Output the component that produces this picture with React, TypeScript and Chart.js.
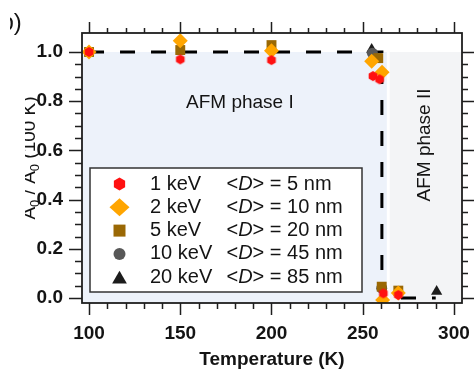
import React, { useEffect, useRef } from 'react';
import { Chart, registerables } from 'chart.js';

Chart.register(...registerables);

// ---------- data ----------
const xTickValues = [100, 150, 200, 250, 300];
const yTickValues = [0, 0.2, 0.4, 0.6, 0.8, 1.0];
const yTickLabels = ['0.0', '0.2', '0.4', '0.6', '0.8', '1.0'];
const xMinorStep = 10;
const yMinorStep = 0.05;

const seriesEnergy = ['1 keV', '2 keV', '5 keV', '10 keV', '20 keV'];
const seriesDepth = ['5 nm', '10 nm', '20 nm', '45 nm', '85 nm'];

const t1keV = [100, 150, 200, 255.6, 259.2, 261.3, 269.5];
const v1keV = [1.0, 0.97, 0.967, 0.902, 0.889, 0.019, 0.012];
const t2keV = [100, 150, 200, 254.9, 260.6, 260.9, 269.5];
const v2keV = [1.0, 1.046, 1.005, 0.962, 0.918, -0.008, 0.02];
const t5keV = [100, 150, 200, 258.5, 260.4, 269.5];
const v5keV = [1.0, 1.008, 1.028, 0.975, 0.046, 0.03];
const t10keV = [255.3, 260.4];
const v10keV = [0.995, 0.04];
const t20keV = [254.9, 290.5];
const v20keV = [1.01, 0.026];

const guideT = [100, 260.5, 260.5, 290];
const guideV = [1, 1, 0, 0];

const phaseIEnd = 263.2;
const phaseIIStart = 264.8;
const phaseTop = 1.0;

// ---------- style ----------
const FONT = '"Liberation Sans", Arial, Helvetica, sans-serif';
const COLORS = ['#ff1111', '#ffa500', '#9a6804', '#585858', '#1c1c1c'];
const STYLES = ['hex', 'rectRot', 'rect', 'circle', 'triangle'];
const PHASE1 = '#edf2fa';
const PHASE2 = '#f3f4f6';
const INK = '#141414';

function hexCanvas(r: number, color: string) {
  const size = Math.ceil(r * 2) + 2;
  const c = document.createElement('canvas');
  c.width = size;
  c.height = size;
  const g = c.getContext('2d')!;
  g.fillStyle = color;
  g.beginPath();
  for (let i = 0; i < 6; i++) {
    const a = -Math.PI / 2 + (i * Math.PI) / 3;
    const px = size / 2 + r * Math.cos(a);
    const py = size / 2 + r * Math.sin(a);
    if (i === 0) g.moveTo(px, py);
    else g.lineTo(px, py);
  }
  g.closePath();
  g.fill();
  return c;
}

function drawMarker(ctx: CanvasRenderingContext2D, style: string, x: number, y: number, r: number, color: string) {
  ctx.fillStyle = color;
  ctx.beginPath();
  if (style === 'hex') {
    for (let i = 0; i < 6; i++) {
      const a = -Math.PI / 2 + (i * Math.PI) / 3;
      const px = x + r * Math.cos(a);
      const py = y + r * Math.sin(a);
      if (i === 0) ctx.moveTo(px, py);
      else ctx.lineTo(px, py);
    }
  } else if (style === 'rectRot') {
    ctx.moveTo(x - r, y);
    ctx.lineTo(x, y - r * 0.9);
    ctx.lineTo(x + r, y);
    ctx.lineTo(x, y + r * 0.9);
  } else if (style === 'rect') {
    ctx.rect(x - r, y - r, 2 * r, 2 * r);
  } else if (style === 'circle') {
    ctx.arc(x, y, r, 0, Math.PI * 2);
  } else if (style === 'triangle') {
    for (let i = 0; i < 3; i++) {
      const a = (i * 2 * Math.PI) / 3;
      const px = x + Math.sin(a) * r;
      const py = y - Math.cos(a) * r;
      if (i === 0) ctx.moveTo(px, py);
      else ctx.lineTo(px, py);
    }
  }
  ctx.closePath();
  ctx.fill();
}

function pts(t: number[], v: number[]) {
  return t.map((tt, i) => ({ x: tt, y: v[i] }));
}

const decorPlugin = {
  id: 'decor',
  beforeDatasetsDraw(chart: any) {
    const { ctx, chartArea: ca, scales } = chart;
    const x = scales.x;
    const y = scales.y;
    ctx.save();
    const yTop = y.getPixelForValue(phaseTop);
    const x1 = x.getPixelForValue(phaseIEnd);
    ctx.fillStyle = PHASE1;
    ctx.fillRect(ca.left, yTop, x1 - ca.left, ca.bottom - yTop);
    const x2 = x.getPixelForValue(phaseIIStart);
    ctx.fillStyle = PHASE2;
    ctx.fillRect(x2, yTop, ca.right - x2, ca.bottom - yTop);

    // annotations
    ctx.fillStyle = INK;
    ctx.font = `19px ${FONT}`;
    ctx.textBaseline = 'middle';
    ctx.textAlign = 'left';
    ctx.fillText('AFM phase I', ca.left + 104, ca.top + 70);
    ctx.save();
    ctx.translate(ca.right - 37, ca.top + 112);
    ctx.rotate(-Math.PI / 2);
    ctx.textAlign = 'center';
    ctx.fillText('AFM phase II', 0, 0);
    ctx.restore();

    // legend box
    const lx = ca.left + 8;
    const rx = ca.left + 280;
    const ty = ca.top + 135;
    const by = ca.bottom - 11;
    ctx.fillStyle = '#ffffff';
    ctx.fillRect(lx, ty, rx - lx, by - ty);
    ctx.strokeStyle = '#333';
    ctx.lineWidth = 1.5;
    ctx.strokeRect(lx, ty, rx - lx, by - ty);
    const markerR = [6.5, 10, 6, 6, 8.5];
    for (let i = 0; i < seriesEnergy.length; i++) {
      const ry = ty + 16 + i * 23.3;
      const my = STYLES[i] === 'triangle' ? ry + 2 : ry;
      drawMarker(ctx, STYLES[i], lx + 29.5, my, markerR[i], COLORS[i]);
      ctx.fillStyle = INK;
      ctx.textAlign = 'left';
      ctx.textBaseline = 'middle';
      ctx.font = `20px ${FONT}`;
      ctx.fillText(seriesEnergy[i], lx + 60, ry);
      let cx = lx + 136.5;
      ctx.fillText('<', cx, ry);
      cx += ctx.measureText('<').width;
      ctx.font = `italic 20px ${FONT}`;
      ctx.fillText('D', cx, ry);
      cx += ctx.measureText('D').width;
      ctx.font = `20px ${FONT}`;
      ctx.fillText('> = ' + seriesDepth[i], cx, ry);
    }
    ctx.restore();
  },
  afterDraw(chart: any) {
    const { ctx, chartArea: ca, scales } = chart;
    const x = scales.x;
    const y = scales.y;
    ctx.save();
    ctx.strokeStyle = '#1e1e1e';
    ctx.lineWidth = 1.8;
    ctx.strokeRect(ca.left, ca.top, ca.right - ca.left, ca.bottom - ca.top);
    ctx.lineWidth = 1.5;
    const MAJ = 12;
    const MIN = 6;
    ctx.beginPath();
    for (let t = xTickValues[0]; t <= xTickValues[xTickValues.length - 1] + 1e-6; t += xMinorStep) {
      const major = xTickValues.some((v) => Math.abs(v - t) < 1e-6);
      const px = Math.round(x.getPixelForValue(t)) + 0.5;
      const len = major ? MAJ : MIN;
      ctx.moveTo(px, ca.bottom);
      ctx.lineTo(px, ca.bottom + len);
      ctx.moveTo(px, ca.top);
      ctx.lineTo(px, ca.top - len + 1);
    }
    const nY = Math.round((yTickValues[yTickValues.length - 1] - yTickValues[0]) / yMinorStep);
    for (let k = 0; k <= nY; k++) {
      const v = yTickValues[0] + k * yMinorStep;
      const major = yTickValues.some((tv) => Math.abs(tv - v) < 1e-6);
      const py = Math.round(y.getPixelForValue(v)) + 0.5;
      const len = major ? MAJ : MIN;
      ctx.moveTo(ca.left, py);
      ctx.lineTo(ca.left - len - 1, py);
      ctx.moveTo(ca.right, py);
      ctx.lineTo(ca.right + len, py);
    }
    ctx.stroke();

    // y-axis title (partially cut off at the left as in the figure)
    ctx.save();
    ctx.beginPath();
    ctx.rect(25, 0, 60, 370);
    ctx.clip();
    const parts: [string, boolean][] = [
      ['A', false], ['0', true], [' / ', false], ['A', false], ['0', true], [' (100 K)', false],
    ];
    const mainF = `19px ${FONT}`;
    const subF = `13px ${FONT}`;
    let total = 0;
    for (const [s, sub] of parts) {
      ctx.font = sub ? subF : mainF;
      total += ctx.measureText(s).width;
    }
    ctx.translate(35, (ca.top + ca.bottom) / 2 - 10);
    ctx.rotate(-Math.PI / 2);
    ctx.fillStyle = INK;
    ctx.textBaseline = 'alphabetic';
    ctx.textAlign = 'left';
    let cx = -total / 2;
    for (const [s, sub] of parts) {
      ctx.font = sub ? subF : mainF;
      ctx.fillText(s, cx, sub ? 4 : 0);
      cx += ctx.measureText(s).width;
    }
    ctx.restore();

    // panel letter (cut at the left edge)
    ctx.save();
    ctx.beginPath();
    ctx.rect(10, 0, 40, 40);
    ctx.clip();
    ctx.fillStyle = INK;
    ctx.font = `24px ${FONT}`;
    ctx.textBaseline = 'alphabetic';
    ctx.textAlign = 'left';
    ctx.fillText('b)', 0.5, 30);
    ctx.restore();
    ctx.restore();
  },
};

export default function App() {
  const ref = useRef<HTMLCanvasElement>(null);
  useEffect(() => {
    document.body.style.margin = '0';
    const canvas = ref.current!;
    const hex = hexCanvas(5, COLORS[0]);
    const tickFont = { family: FONT, size: 19, weight: 'bold' as const };
    const chart = new Chart(canvas, {
      type: 'scatter',
      data: {
        datasets: [
          { label: seriesEnergy[0], data: pts(t1keV, v1keV), pointStyle: hex as any, pointRadius: 5, backgroundColor: COLORS[0], borderColor: COLORS[0], borderWidth: 0, order: 0 },
          { label: seriesEnergy[1], data: pts(t2keV, v2keV), pointStyle: 'rectRot', pointRadius: 7.5, backgroundColor: COLORS[1], borderColor: COLORS[1], borderWidth: 0, order: 1 },
          { label: seriesEnergy[2], data: pts(t5keV, v5keV), pointStyle: 'rect', pointRadius: 7, backgroundColor: COLORS[2], borderColor: COLORS[2], borderWidth: 0, order: 2 },
          { label: seriesEnergy[3], data: pts(t10keV, v10keV), pointStyle: 'circle', pointRadius: 5.5, backgroundColor: COLORS[3], borderColor: COLORS[3], borderWidth: 0, order: 3 },
          { label: seriesEnergy[4], data: pts(t20keV, v20keV), pointStyle: 'triangle', pointRadius: 6.5, backgroundColor: COLORS[4], borderColor: COLORS[4], borderWidth: 0, order: 4 },
          {
            label: 'guide', data: pts(guideT, guideV), showLine: true, pointRadius: 0, borderColor: '#000', borderWidth: 3,
            borderDash: [15, 16], borderCapStyle: 'butt', fill: false, tension: 0, order: 10,
          } as any,
        ],
      },
      options: {
        responsive: false,
        animation: false,
        layout: { padding: { left: 0, right: 13, top: 33, bottom: 0 } },
        plugins: { legend: { display: false }, tooltip: { enabled: false } },
        scales: {
          x: {
            type: 'linear',
            min: 96.15,
            max: 304.4,
            afterBuildTicks: (s: any) => { s.ticks = xTickValues.map((v) => ({ value: v })); },
            afterFit: (s: any) => { s.height = 67; s.paddingLeft = 0; s.paddingRight = 0; },
            grid: { display: false, drawTicks: false },
            border: { display: false },
            ticks: { font: tickFont, color: INK, padding: 19, maxRotation: 0, autoSkip: false, callback: (v: any) => String(v) },
            title: { display: true, text: 'Temperature (K)', font: { family: FONT, size: 19, weight: 'bold' }, color: INK, padding: { top: 0, bottom: -1 } },
          },
          y: {
            type: 'linear',
            min: -0.0203,
            max: 1.0772,
            afterBuildTicks: (s: any) => { s.ticks = yTickValues.map((v) => ({ value: v })); },
            afterFit: (s: any) => { s.width = 82; s.paddingTop = 0; s.paddingBottom = 0; },
            grid: { display: false, drawTicks: false },
            border: { display: false },
            ticks: {
              font: tickFont, color: INK, padding: 19, autoSkip: false,
              callback: (v: any) => { const i = yTickValues.findIndex((t) => Math.abs(t - v) < 1e-9); return i >= 0 ? yTickLabels[i] : ''; },
            },
          },
        },
      },
      plugins: [decorPlugin],
    } as any);
    return () => chart.destroy();
  }, []);
  return <canvas ref={ref} width={475} height={370} style={{ display: 'block', width: 475, height: 370 }} />;
}
